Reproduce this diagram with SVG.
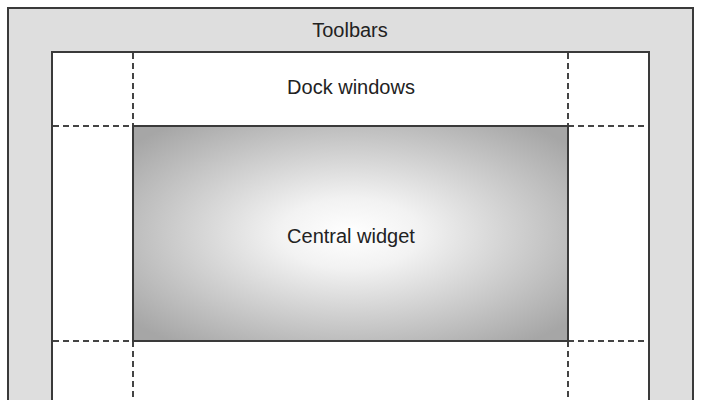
<svg xmlns="http://www.w3.org/2000/svg" width="704" height="400" viewBox="0 0 704 400">
<defs>
<radialGradient id="cw" cx="50%" cy="50%" r="65%" gradientUnits="objectBoundingBox">
<stop offset="0" stop-color="#ffffff"/>
<stop offset="0.25" stop-color="#f2f2f2"/>
<stop offset="1" stop-color="#a6a6a6"/>
</radialGradient>
<style>
.frame{stroke:#3a3a3a;stroke-width:2}
.dash{stroke:#444;stroke-width:2;stroke-dasharray:6 4;fill:none}
.lbl{font-family:"Liberation Sans",Arial,sans-serif;font-size:20px;fill:#222;text-anchor:middle}
</style>
</defs>
<rect width="704" height="400" fill="#ffffff"/>
<g id="toolbars">
<rect class="frame" x="8" y="8" width="685" height="420" fill="#dedede"/>
<text class="lbl" x="350" y="37">Toolbars</text>
</g>
<g id="dock-windows">
<rect class="frame" x="52" y="52" width="597" height="400" fill="#ffffff"/>
<text class="lbl" x="351" y="94">Dock windows</text>
</g>
<g id="connectors">
<line class="dash" x1="133" y1="53" x2="133" y2="126"/>
<line class="dash" x1="568" y1="53" x2="568" y2="126"/>
<line class="dash" x1="53" y1="126" x2="133" y2="126"/>
<line class="dash" x1="568" y1="126" x2="648" y2="126"/>
<line class="dash" x1="53" y1="341" x2="133" y2="341"/>
<line class="dash" x1="568" y1="341" x2="648" y2="341"/>
<line class="dash" x1="133" y1="341" x2="133" y2="400"/>
<line class="dash" x1="568" y1="341" x2="568" y2="400"/>
</g>
<g id="central-widget">
<rect class="frame" x="133" y="126" width="435" height="215" fill="url(#cw)"/>
<text class="lbl" x="351" y="243">Central widget</text>
</g>
</svg>
